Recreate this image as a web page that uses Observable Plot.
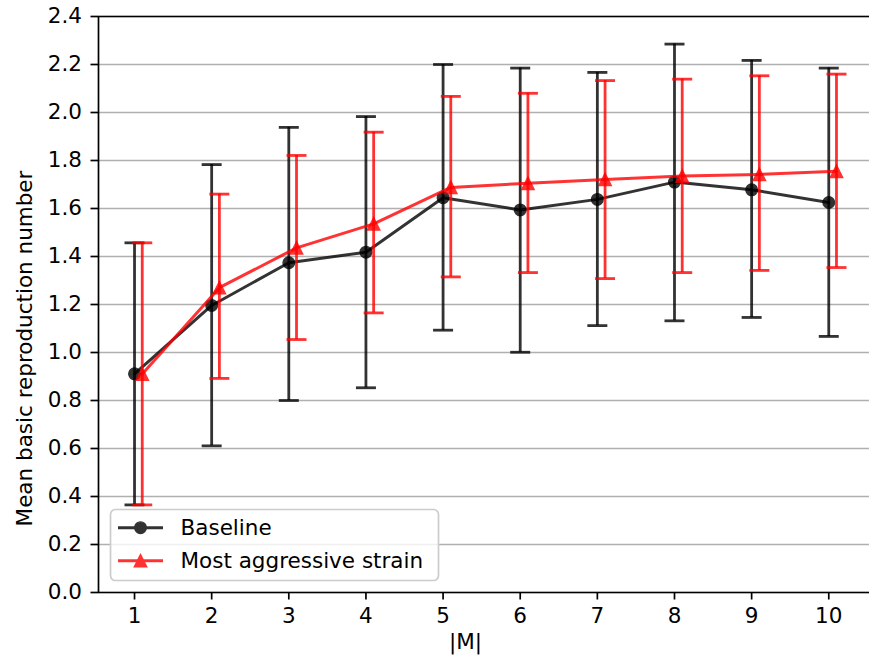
<!DOCTYPE html>
<html><head><meta charset="utf-8">
<script src="https://cdn.jsdelivr.net/npm/d3@7"></script>
<script src="https://cdn.jsdelivr.net/npm/@observablehq/plot@0.6"></script>
<style>
body{margin:0;background:#fff;font-family:"DejaVu Sans",sans-serif;overflow:hidden;}
#wrap{position:relative;width:869px;height:662px;}
#legend{position:absolute;left:0;top:0;pointer-events:none;}
</style></head>
<body><div id="wrap"></div>
<script>
const xs = [1, 2, 3, 4, 5, 6, 7, 8, 9, 10];
const xTickLabels = ["1","2","3","4","5","6","7","8","9","10"];
const yTicks = [0, 0.2, 0.4, 0.6, 0.8, 1.0, 1.2, 1.4, 1.6, 1.8, 2.0, 2.2, 2.4];
const baseMean = [0.911, 1.196, 1.374, 1.418, 1.645, 1.594, 1.638, 1.710, 1.678, 1.625];
const baseLo   = [0.365, 0.611, 0.800, 0.853, 1.093, 1.001, 1.112, 1.132, 1.146, 1.067];
const baseHi   = [1.457, 1.783, 1.938, 1.983, 2.200, 2.185, 2.167, 2.285, 2.217, 2.185];
const aggMean  = [0.910, 1.270, 1.436, 1.536, 1.688, 1.705, 1.721, 1.735, 1.742, 1.755];
const aggLo    = [0.365, 0.892, 1.054, 1.165, 1.315, 1.333, 1.308, 1.333, 1.342, 1.354];
const aggHi    = [1.457, 1.660, 1.821, 1.918, 2.067, 2.080, 2.133, 2.139, 2.153, 2.160];
const seriesNames = ["Baseline", "Most aggressive strain"];
const aggOffset = 0.1;
const xDomain = [0.533, 10.528];
const yDomain = [0, 2.4];

const base = xs.map((x, i) => ({x, mean: baseMean[i], lo: baseLo[i], hi: baseHi[i]}));
const agg = xs.map((x, i) => ({x: x + aggOffset, mean: aggMean[i], lo: aggLo[i], hi: aggHi[i]}));

const capSym = {draw(ctx) { ctx.moveTo(-10, 0); ctx.lineTo(10, 0); }};
const triSym = {draw(ctx) { const s = 6.2; ctx.moveTo(0, -s); ctx.lineTo(s, s); ctx.lineTo(-s, s); ctx.closePath(); }};

const BLACK = "black", RED = "red", A = 0.8;
const FS = 21.5;

function seriesMarks(data, color, marker) {
  return [
    Plot.ruleX(data, {x: "x", y1: "lo", y2: "hi", stroke: color, strokeWidth: 2.8, opacity: A}),
    Plot.dot(data, {x: "x", y: "lo", symbol: capSym, fill: "none", stroke: color, strokeWidth: 2.8, opacity: A}),
    Plot.dot(data, {x: "x", y: "hi", symbol: capSym, fill: "none", stroke: color, strokeWidth: 2.8, opacity: A}),
    Plot.line(data, {x: "x", y: "mean", stroke: color, strokeWidth: 3, opacity: A}),
    marker === "circle"
      ? Plot.dot(data, {x: "x", y: "mean", r: 5.8, fill: color, stroke: color, strokeWidth: 1.4, opacity: A})
      : Plot.dot(data, {x: "x", y: "mean", symbol: triSym, fill: color, stroke: color, strokeWidth: 1.4, opacity: A})
  ];
}

const chart = Plot.plot({
  width: 869,
  height: 662,
  marginLeft: 98,
  marginRight: 0,
  marginTop: 16,
  marginBottom: 70,
  style: {fontFamily: "DejaVu Sans", fontSize: FS + "px", color: "black", background: "white"},
  x: {domain: xDomain},
  y: {domain: yDomain},
  marks: [
    Plot.ruleY(yTicks, {stroke: "#b0b0b0", strokeWidth: 1.7}),
    ...seriesMarks(base, BLACK, "circle"),
    ...seriesMarks(agg, RED, "triangle"),
    Plot.ruleY([yDomain[0], yDomain[1]], {stroke: "black", strokeWidth: 1.7}),
    Plot.ruleX([xDomain[0]], {stroke: "black", strokeWidth: 1.7}),
    Plot.axisY(yTicks, {tickFormat: d3.format(".1f"), tickSize: 7.5, tickPadding: 9, label: null, strokeWidth: 1.7}),
    Plot.axisX(xs, {tickFormat: (d, i) => xTickLabels[i], tickSize: 7.5, tickPadding: 8, label: null, strokeWidth: 1.7}),
    Plot.text(["|M|"], {frameAnchor: "bottom", dx: -18.5, dy: 56, fontSize: FS}),
    Plot.text(["Mean basic reproduction number"], {frameAnchor: "left", textAnchor: "middle", rotate: -90, dx: -73.5, dy: 44, fontSize: FS})
  ]
});

const wrap = document.getElementById("wrap");
wrap.appendChild(chart);

// legend overlay (inside plot area, as in the reference)
const ns = "http://www.w3.org/2000/svg";
const lg = document.createElementNS(ns, "svg");
lg.setAttribute("id", "legend");
lg.setAttribute("width", 869);
lg.setAttribute("height", 662);
lg.innerHTML = `
  <rect x="110.5" y="509.5" width="328" height="71" rx="5" ry="5" fill="white" fill-opacity="0.8" stroke="#cccccc" stroke-width="1.7"/>
  <g opacity="0.8">
    <line x1="118" y1="527.7" x2="163" y2="527.7" stroke="black" stroke-width="3"/>
    <circle cx="140.5" cy="527.7" r="5.8" fill="black" stroke="black" stroke-width="1.4"/>
  </g>
  <g opacity="0.8">
    <line x1="118" y1="560.7" x2="163" y2="560.7" stroke="red" stroke-width="3"/>
    <path d="M140.5,554.5L146.7,566.9L134.3,566.9Z" fill="red" stroke="red" stroke-width="1.4"/>
  </g>
  <text x="180.5" y="527.7" dy="0.36em" font-family="DejaVu Sans" font-size="${FS}" fill="black">${seriesNames[0]}</text>
  <text x="180.5" y="560.7" dy="0.36em" font-family="DejaVu Sans" font-size="${FS}" fill="black">${seriesNames[1]}</text>
`;
wrap.appendChild(lg);
</script>
</body></html>
